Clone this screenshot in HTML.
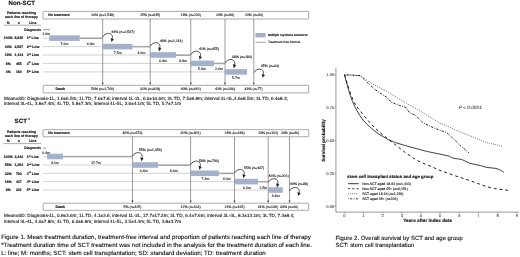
<!DOCTYPE html>
<html><head><meta charset="utf-8"><title>Figure</title>
<style>
html,body{margin:0;padding:0;background:#fff;}
svg{display:block;font-family:"Liberation Sans",sans-serif;}
text{fill:#111;text-rendering:geometricPrecision;stroke:#111;stroke-width:1.1px;}
.b{font-weight:bold;stroke-width:1.3px;}
.t{font-size:35px;}
.m{font-size:46.6px;}
.c{font-size:61.7px;}
</style></head><body>
<svg width="520" height="257" viewBox="0 0 520 257">
<rect width="520" height="257" fill="#fff"/>

<text transform="translate(8.4,5.4) scale(0.1)" class="b" font-size="62">Non-SCT</text>
<text transform="translate(21.5,14.1) scale(0.1)" class="t b" text-anchor="middle" >Patients reaching</text>
<text transform="translate(21.4,18.3) scale(0.1)" class="t b" text-anchor="middle" >each line of therapy</text>
<text transform="translate(8.2,23.5) scale(0.1)" class="t b" text-anchor="middle" >%</text>
<text transform="translate(18.7,23.5) scale(0.1)" class="t b" text-anchor="middle" >n</text>
<text transform="translate(32.8,23.5) scale(0.1)" class="t b" text-anchor="middle" >Line</text>
<line x1="3.5" y1="25.2" x2="41" y2="25.2" stroke="#333" stroke-width="0.4"/>
<rect x="43" y="11.4" width="265.7" height="7.6" fill="#fff" stroke="#555" stroke-width="0.5" rx="0.6"/>
<text transform="translate(48.2,16.45) scale(0.1)" class="t b" text-anchor="start" >No treatment</text>
<rect x="43.2" y="85.3" width="265.5" height="7.6" fill="#fff" stroke="#555" stroke-width="0.5" rx="0.6"/>
<text transform="translate(55.4,90.35) scale(0.1)" class="t b" text-anchor="start" >Death</text>
<line x1="43" y1="38.1" x2="102.7" y2="38.1" stroke="#d4d4d4" stroke-width="0.7"/>
<line x1="43" y1="38.1" x2="102.7" y2="38.1" stroke="#999" stroke-width="0.35" stroke-dasharray="0.8 0.8"/>
<line x1="43" y1="46.6" x2="150.2" y2="46.6" stroke="#d4d4d4" stroke-width="0.7"/>
<line x1="43" y1="46.6" x2="150.2" y2="46.6" stroke="#999" stroke-width="0.35" stroke-dasharray="0.8 0.8"/>
<line x1="43" y1="55.0" x2="190.8" y2="55.0" stroke="#d4d4d4" stroke-width="0.7"/>
<line x1="43" y1="55.0" x2="190.8" y2="55.0" stroke="#999" stroke-width="0.35" stroke-dasharray="0.8 0.8"/>
<line x1="43" y1="63.4" x2="225" y2="63.4" stroke="#d4d4d4" stroke-width="0.7"/>
<line x1="43" y1="63.4" x2="225" y2="63.4" stroke="#999" stroke-width="0.35" stroke-dasharray="0.8 0.8"/>
<line x1="43" y1="71.9" x2="247" y2="71.9" stroke="#d4d4d4" stroke-width="0.7"/>
<line x1="43" y1="71.9" x2="247" y2="71.9" stroke="#999" stroke-width="0.35" stroke-dasharray="0.8 0.8"/>
<text transform="translate(41,30.8) scale(0.1)" class="t b" text-anchor="end" >Diagnosis</text>
<text transform="translate(8.3,39.300000000000004) scale(0.1)" class="t b" text-anchor="middle" >100%</text>
<text transform="translate(18.8,39.300000000000004) scale(0.1)" class="t b" text-anchor="middle" >5,825</text>
<text transform="translate(26.7,39.300000000000004) scale(0.1)" class="t b">1<tspan font-size="22" dy="-12">st</tspan><tspan dy="12"> Line</tspan></text>
<text transform="translate(8.3,47.800000000000004) scale(0.1)" class="t b" text-anchor="middle" >44%</text>
<text transform="translate(18.8,47.800000000000004) scale(0.1)" class="t b" text-anchor="middle" >2,587</text>
<text transform="translate(26.7,47.800000000000004) scale(0.1)" class="t b">2<tspan font-size="22" dy="-12">nd</tspan><tspan dy="12"> Line</tspan></text>
<text transform="translate(8.3,56.2) scale(0.1)" class="t b" text-anchor="middle" >19%</text>
<text transform="translate(18.8,56.2) scale(0.1)" class="t b" text-anchor="middle" >1,114</text>
<text transform="translate(26.7,56.2) scale(0.1)" class="t b">3<tspan font-size="22" dy="-12">rd</tspan><tspan dy="12"> Line</tspan></text>
<text transform="translate(8.3,64.6) scale(0.1)" class="t b" text-anchor="middle" >8%</text>
<text transform="translate(18.8,64.6) scale(0.1)" class="t b" text-anchor="middle" >455</text>
<text transform="translate(26.7,64.6) scale(0.1)" class="t b">4<tspan font-size="22" dy="-12">th</tspan><tspan dy="12"> Line</tspan></text>
<text transform="translate(8.3,73.10000000000001) scale(0.1)" class="t b" text-anchor="middle" >3%</text>
<text transform="translate(18.8,73.10000000000001) scale(0.1)" class="t b" text-anchor="middle" >180</text>
<text transform="translate(26.7,73.10000000000001) scale(0.1)" class="t b">5<tspan font-size="22" dy="-12">th</tspan><tspan dy="12"> Line</tspan></text>
<line x1="43.2" y1="30.0" x2="50" y2="30.0" stroke="#bbb" stroke-width="0.8"/>
<line x1="43.2" y1="29.400000000000002" x2="50" y2="29.400000000000002" stroke="#333" stroke-width="0.35"/>
<text transform="translate(42.300000000000004,35.4) scale(0.1)" class="t" text-anchor="start" >1.6m</text>
<line x1="102.7" y1="19.0" x2="102.7" y2="84.3" stroke="#4a4a4a" stroke-width="0.55"/>
<path d="M101.7 82.7 L102.7 85.1 L103.7 82.7 Z" fill="#444"/>
<line x1="150.2" y1="19.0" x2="150.2" y2="84.3" stroke="#4a4a4a" stroke-width="0.55"/>
<path d="M149.2 82.7 L150.2 85.1 L151.2 82.7 Z" fill="#444"/>
<line x1="190.8" y1="19.0" x2="190.8" y2="84.3" stroke="#4a4a4a" stroke-width="0.55"/>
<path d="M189.8 82.7 L190.8 85.1 L191.8 82.7 Z" fill="#444"/>
<line x1="225" y1="19.0" x2="225" y2="84.3" stroke="#4a4a4a" stroke-width="0.55"/>
<path d="M224 82.7 L225 85.1 L226 82.7 Z" fill="#444"/>
<line x1="253.8" y1="19.0" x2="253.8" y2="84.3" stroke="#4a4a4a" stroke-width="0.55"/>
<path d="M252.8 82.7 L253.8 85.1 L254.8 82.7 Z" fill="#444"/>
<text transform="translate(102.7,16.45) scale(0.1)" class="t" text-anchor="middle" >26% (n=1,548)</text>
<text transform="translate(150.2,16.45) scale(0.1)" class="t" text-anchor="middle" >25% (n=645)</text>
<text transform="translate(190.8,16.45) scale(0.1)" class="t" text-anchor="middle" >18% (n=203)</text>
<text transform="translate(225,16.45) scale(0.1)" class="t" text-anchor="middle" >20% (n=93)</text>
<text transform="translate(254,16.45) scale(0.1)" class="t" text-anchor="middle" >20% (n=40)</text>
<text transform="translate(102.7,90.35) scale(0.1)" class="t" text-anchor="middle" >50% (n=1,700)</text>
<text transform="translate(150.2,90.35) scale(0.1)" class="t" text-anchor="middle" >32% (n=828)</text>
<text transform="translate(190.8,90.35) scale(0.1)" class="t" text-anchor="middle" >40% (n=442)</text>
<text transform="translate(225,90.35) scale(0.1)" class="t" text-anchor="middle" >42% (n=196)</text>
<text transform="translate(253.6,90.35) scale(0.1)" class="t" text-anchor="middle" >43% (n=77)</text>
<line x1="79.7" y1="37.85" x2="102.7" y2="37.85" stroke="#c0c0c0" stroke-width="1.0"/>
<line x1="79.7" y1="38.5" x2="102.7" y2="38.5" stroke="#666" stroke-width="0.5"/>
<rect x="49.3" y="35.300000000000004" width="30.400000000000006" height="5.6" fill="#a4b2cc"/>
<line x1="49.3" y1="38.1" x2="79.7" y2="38.1" stroke="#95a3bf" stroke-width="0.4" stroke-dasharray="0.8 0.8"/>
<text transform="translate(64.5,45.1) scale(0.1)" class="t" text-anchor="middle" >7.6m</text>
<text transform="translate(90.6,45.1) scale(0.1)" class="t" text-anchor="middle" >6.0m</text>
<line x1="132.4" y1="46.35" x2="150.2" y2="46.35" stroke="#c0c0c0" stroke-width="1.0"/>
<line x1="132.4" y1="47.0" x2="150.2" y2="47.0" stroke="#666" stroke-width="0.5"/>
<rect x="102.7" y="43.800000000000004" width="29.700000000000003" height="5.6" fill="#a4b2cc"/>
<line x1="102.7" y1="46.6" x2="132.4" y2="46.6" stroke="#95a3bf" stroke-width="0.4" stroke-dasharray="0.8 0.8"/>
<text transform="translate(117.7,53.6) scale(0.1)" class="t" text-anchor="middle" >7.5m</text>
<text transform="translate(141.5,53.6) scale(0.1)" class="t" text-anchor="middle" >4.6m</text>
<line x1="176" y1="54.75" x2="190.8" y2="54.75" stroke="#c0c0c0" stroke-width="1.0"/>
<line x1="176" y1="55.4" x2="190.8" y2="55.4" stroke="#666" stroke-width="0.5"/>
<rect x="150.2" y="52.2" width="25.80000000000001" height="5.6" fill="#a4b2cc"/>
<line x1="150.2" y1="55.0" x2="176" y2="55.0" stroke="#95a3bf" stroke-width="0.4" stroke-dasharray="0.8 0.8"/>
<text transform="translate(163,62.0) scale(0.1)" class="t" text-anchor="middle" >6.4m</text>
<text transform="translate(183,62.0) scale(0.1)" class="t" text-anchor="middle" >3.9m</text>
<line x1="214" y1="63.15" x2="225" y2="63.15" stroke="#c0c0c0" stroke-width="1.0"/>
<line x1="214" y1="63.8" x2="225" y2="63.8" stroke="#666" stroke-width="0.5"/>
<rect x="190.8" y="60.6" width="23.19999999999999" height="5.6" fill="#a4b2cc"/>
<line x1="190.8" y1="63.4" x2="214" y2="63.4" stroke="#95a3bf" stroke-width="0.4" stroke-dasharray="0.8 0.8"/>
<text transform="translate(202,70.4) scale(0.1)" class="t" text-anchor="middle" >5.9m</text>
<text transform="translate(219,70.4) scale(0.1)" class="t" text-anchor="middle" >2.6m</text>
<rect x="225" y="69.10000000000001" width="22" height="5.6" fill="#a4b2cc"/>
<line x1="225" y1="71.9" x2="247" y2="71.9" stroke="#95a3bf" stroke-width="0.4" stroke-dasharray="0.8 0.8"/>
<text transform="translate(236,78.9) scale(0.1)" class="t" text-anchor="middle" >5.7m</text>
<path d="M102.7 36.900000000000006 C103.9 34.7, 106.3 33.400000000000006, 108.60000000000001 33.400000000000006 C111.2 33.400000000000006, 113.10000000000001 35.7, 112.3 38.7" fill="none" stroke="#222" stroke-width="0.8"/>
<path d="M110.60000000000001 38.00000000000001 L111.5 42.1 L113.9 39.2 Z" fill="#222"/>
<text transform="translate(111.3,33.0) scale(0.1)" class="t" text-anchor="start" >44% (n=2,587)</text>
<path d="M150.2 46.2 C151.39999999999998 44.0, 153.79999999999998 42.7, 156.1 42.7 C158.7 42.7, 160.6 45.0, 159.79999999999998 48.0" fill="none" stroke="#222" stroke-width="0.8"/>
<path d="M158.1 47.300000000000004 L159.0 51.4 L161.39999999999998 48.5 Z" fill="#222"/>
<text transform="translate(159.9,41.5) scale(0.1)" class="t" text-anchor="start" >43% (n=1,114)</text>
<path d="M190.8 54.6 C192.0 52.4, 194.4 51.1, 196.70000000000002 51.1 C199.3 51.1, 201.20000000000002 53.4, 200.4 56.4" fill="none" stroke="#222" stroke-width="0.8"/>
<path d="M198.70000000000002 55.7 L199.60000000000002 59.8 L202.0 56.9 Z" fill="#222"/>
<text transform="translate(198.9,49.9) scale(0.1)" class="t" text-anchor="start" >42% (n=455)</text>
<path d="M225 63.00000000000001 C226.2 60.800000000000004, 228.6 59.50000000000001, 230.9 59.50000000000001 C233.5 59.50000000000001, 235.4 61.800000000000004, 234.6 64.80000000000001" fill="none" stroke="#222" stroke-width="0.8"/>
<path d="M232.9 64.10000000000001 L233.8 68.2 L236.2 65.30000000000001 Z" fill="#222"/>
<text transform="translate(232,58.3) scale(0.1)" class="t" text-anchor="start" >38% (n=180)</text>
<path d="M253.8 72.6 C255.0 70.4, 257.40000000000003 69.1, 259.7 69.1 C262.3 69.1, 264.2 71.4, 263.40000000000003 74.4" fill="none" stroke="#222" stroke-width="0.8"/>
<path d="M261.7 73.7 L262.6 77.8 L265.0 74.9 Z" fill="#222"/>
<text transform="translate(260.9,66.8) scale(0.1)" class="t" text-anchor="start" >35% (n=63)</text>
<text transform="translate(4.0,99.8) scale(0.1)" class="m" text-anchor="start" >Mean±SD: Diagnosis-1L, 1.6±6.5m; 1L TD, 7.6±7.8; interval 1L-2L, 6.0±10.6m; 2L TD, 7.5±8.8m; interval 2L-3L,4.6±8.5m; 3L TD, 6.4±8.3;</text>
<text transform="translate(4.0,105.3) scale(0.1)" class="m" text-anchor="start" >interval 3L-4L, 3.9±7.4m; 4L TD, 5.9±7.3m; interval 4L-5L, 2.6±4.1m; 5L TD, 5.7±7.1m</text>
<text transform="translate(14.6,123.4) scale(0.1)" class="b" font-size="62">SCT<tspan font-size="40" dy="-24" dx="12">*</tspan></text>
<text transform="translate(21.5,132.5) scale(0.1)" class="t b" text-anchor="middle" >Patients reaching</text>
<text transform="translate(21.4,136.70000000000002) scale(0.1)" class="t b" text-anchor="middle" >each line of therapy</text>
<text transform="translate(8.2,141.9) scale(0.1)" class="t b" text-anchor="middle" >%</text>
<text transform="translate(18.7,141.9) scale(0.1)" class="t b" text-anchor="middle" >n</text>
<text transform="translate(32.8,141.9) scale(0.1)" class="t b" text-anchor="middle" >Line</text>
<line x1="3.5" y1="143.6" x2="41" y2="143.6" stroke="#333" stroke-width="0.4"/>
<rect x="43" y="129.65" width="265.7" height="7.1" fill="#fff" stroke="#555" stroke-width="0.5" rx="0.6"/>
<text transform="translate(48.2,134.45000000000002) scale(0.1)" class="t b" text-anchor="start" >No treatment</text>
<rect x="43.2" y="203.2" width="265.5" height="7.1" fill="#fff" stroke="#555" stroke-width="0.5" rx="0.6"/>
<text transform="translate(55.4,208.0) scale(0.1)" class="t b" text-anchor="start" >Death</text>
<line x1="43" y1="156.5" x2="132.45" y2="156.5" stroke="#d4d4d4" stroke-width="0.7"/>
<line x1="43" y1="156.5" x2="132.45" y2="156.5" stroke="#999" stroke-width="0.35" stroke-dasharray="0.8 0.8"/>
<line x1="43" y1="165.0" x2="190.6" y2="165.0" stroke="#d4d4d4" stroke-width="0.7"/>
<line x1="43" y1="165.0" x2="190.6" y2="165.0" stroke="#999" stroke-width="0.35" stroke-dasharray="0.8 0.8"/>
<line x1="43" y1="173.3" x2="234.5" y2="173.3" stroke="#d4d4d4" stroke-width="0.7"/>
<line x1="43" y1="173.3" x2="234.5" y2="173.3" stroke="#999" stroke-width="0.35" stroke-dasharray="0.8 0.8"/>
<line x1="43" y1="181.6" x2="268.2" y2="181.6" stroke="#d4d4d4" stroke-width="0.7"/>
<line x1="43" y1="181.6" x2="268.2" y2="181.6" stroke="#999" stroke-width="0.35" stroke-dasharray="0.8 0.8"/>
<line x1="43" y1="190.0" x2="282.8" y2="190.0" stroke="#d4d4d4" stroke-width="0.7"/>
<line x1="43" y1="190.0" x2="282.8" y2="190.0" stroke="#999" stroke-width="0.35" stroke-dasharray="0.8 0.8"/>
<text transform="translate(41,149.39999999999998) scale(0.1)" class="t b" text-anchor="end" >Diagnosis</text>
<text transform="translate(8.3,157.7) scale(0.1)" class="t b" text-anchor="middle" >100%</text>
<text transform="translate(18.8,157.7) scale(0.1)" class="t b" text-anchor="middle" >2,442</text>
<text transform="translate(26.7,157.7) scale(0.1)" class="t b">1<tspan font-size="22" dy="-12">st</tspan><tspan dy="12"> Line</tspan></text>
<text transform="translate(8.3,166.2) scale(0.1)" class="t b" text-anchor="middle" >55%</text>
<text transform="translate(18.8,166.2) scale(0.1)" class="t b" text-anchor="middle" >1,354</text>
<text transform="translate(26.7,166.2) scale(0.1)" class="t b">2<tspan font-size="22" dy="-12">nd</tspan><tspan dy="12"> Line</tspan></text>
<text transform="translate(8.3,174.5) scale(0.1)" class="t b" text-anchor="middle" >32%</text>
<text transform="translate(18.8,174.5) scale(0.1)" class="t b" text-anchor="middle" >790</text>
<text transform="translate(26.7,174.5) scale(0.1)" class="t b">3<tspan font-size="22" dy="-12">rd</tspan><tspan dy="12"> Line</tspan></text>
<text transform="translate(8.3,182.79999999999998) scale(0.1)" class="t b" text-anchor="middle" >18%</text>
<text transform="translate(18.8,182.79999999999998) scale(0.1)" class="t b" text-anchor="middle" >437</text>
<text transform="translate(26.7,182.79999999999998) scale(0.1)" class="t b">4<tspan font-size="22" dy="-12">th</tspan><tspan dy="12"> Line</tspan></text>
<text transform="translate(8.3,191.2) scale(0.1)" class="t b" text-anchor="middle" >8%</text>
<text transform="translate(18.8,191.2) scale(0.1)" class="t b" text-anchor="middle" >201</text>
<text transform="translate(26.7,191.2) scale(0.1)" class="t b">5<tspan font-size="22" dy="-12">th</tspan><tspan dy="12"> Line</tspan></text>
<line x1="43.2" y1="148.6" x2="46" y2="148.6" stroke="#bbb" stroke-width="0.8"/>
<line x1="43.2" y1="148.0" x2="46" y2="148.0" stroke="#333" stroke-width="0.35"/>
<text transform="translate(42.300000000000004,153.8) scale(0.1)" class="t" text-anchor="start" >0.9m</text>
<line x1="132.45" y1="136.75" x2="132.45" y2="202.2" stroke="#4a4a4a" stroke-width="0.55"/>
<path d="M131.45 200.6 L132.45 203.0 L133.45 200.6 Z" fill="#444"/>
<line x1="190.6" y1="136.75" x2="190.6" y2="202.2" stroke="#4a4a4a" stroke-width="0.55"/>
<path d="M189.6 200.6 L190.6 203.0 L191.6 200.6 Z" fill="#444"/>
<line x1="234.5" y1="136.75" x2="234.5" y2="202.2" stroke="#4a4a4a" stroke-width="0.55"/>
<path d="M233.5 200.6 L234.5 203.0 L235.5 200.6 Z" fill="#444"/>
<line x1="268.2" y1="136.75" x2="268.2" y2="202.2" stroke="#4a4a4a" stroke-width="0.55"/>
<path d="M267.2 200.6 L268.2 203.0 L269.2 200.6 Z" fill="#444"/>
<line x1="289.5" y1="136.75" x2="289.5" y2="202.2" stroke="#4a4a4a" stroke-width="0.55"/>
<path d="M288.5 200.6 L289.5 203.0 L290.5 200.6 Z" fill="#444"/>
<text transform="translate(132.45,134.45000000000002) scale(0.1)" class="t" text-anchor="middle" >40% (n=973)</text>
<text transform="translate(190.6,134.45000000000002) scale(0.1)" class="t" text-anchor="middle" >30% (n=401)</text>
<text transform="translate(234.5,134.45000000000002) scale(0.1)" class="t" text-anchor="middle" >24% (n=188)</text>
<text transform="translate(268.2,134.45000000000002) scale(0.1)" class="t" text-anchor="middle" >23% (n=102)</text>
<text transform="translate(290,134.45000000000002) scale(0.1)" class="t" text-anchor="middle" >23% (n=46)</text>
<text transform="translate(132.45,208.0) scale(0.1)" class="t" text-anchor="middle" >5% (n=115)</text>
<text transform="translate(190.6,208.0) scale(0.1)" class="t" text-anchor="middle" >12% (n=163)</text>
<text transform="translate(234.5,208.0) scale(0.1)" class="t" text-anchor="middle" >21% (n=165)</text>
<text transform="translate(267.9,208.0) scale(0.1)" class="t" text-anchor="middle" >31% (n=134)</text>
<text transform="translate(289.1,208.0) scale(0.1)" class="t" text-anchor="middle" >33% (n=66)</text>
<line x1="63" y1="156.25" x2="132.45" y2="156.25" stroke="#c0c0c0" stroke-width="1.0"/>
<line x1="63" y1="156.9" x2="132.45" y2="156.9" stroke="#666" stroke-width="0.5"/>
<rect x="47.1" y="153.7" width="15.899999999999999" height="5.6" fill="#a4b2cc"/>
<line x1="47.1" y1="156.5" x2="63" y2="156.5" stroke="#95a3bf" stroke-width="0.4" stroke-dasharray="0.8 0.8"/>
<text transform="translate(54.9,163.5) scale(0.1)" class="t" text-anchor="middle" >4.1m</text>
<text transform="translate(96,163.5) scale(0.1)" class="t" text-anchor="middle" >17.7m</text>
<line x1="158" y1="164.75" x2="190.6" y2="164.75" stroke="#c0c0c0" stroke-width="1.0"/>
<line x1="158" y1="165.4" x2="190.6" y2="165.4" stroke="#666" stroke-width="0.5"/>
<rect x="132.45" y="162.2" width="25.55000000000001" height="5.6" fill="#a4b2cc"/>
<line x1="132.45" y1="165.0" x2="158" y2="165.0" stroke="#95a3bf" stroke-width="0.4" stroke-dasharray="0.8 0.8"/>
<text transform="translate(143.7,172.0) scale(0.1)" class="t" text-anchor="middle" >6.4m</text>
<text transform="translate(173.7,172.0) scale(0.1)" class="t" text-anchor="middle" >8.3m</text>
<line x1="218.9" y1="173.05" x2="234.5" y2="173.05" stroke="#c0c0c0" stroke-width="1.0"/>
<line x1="218.9" y1="173.70000000000002" x2="234.5" y2="173.70000000000002" stroke="#666" stroke-width="0.5"/>
<rect x="190.6" y="170.5" width="28.30000000000001" height="5.6" fill="#a4b2cc"/>
<line x1="190.6" y1="173.3" x2="218.9" y2="173.3" stroke="#95a3bf" stroke-width="0.4" stroke-dasharray="0.8 0.8"/>
<text transform="translate(205.5,180.3) scale(0.1)" class="t" text-anchor="middle" >7.3m</text>
<text transform="translate(226.7,180.3) scale(0.1)" class="t" text-anchor="middle" >4.0m</text>
<line x1="258" y1="181.35" x2="268.2" y2="181.35" stroke="#c0c0c0" stroke-width="1.0"/>
<line x1="258" y1="182.0" x2="268.2" y2="182.0" stroke="#666" stroke-width="0.5"/>
<rect x="234.5" y="178.79999999999998" width="23.5" height="5.6" fill="#a4b2cc"/>
<line x1="234.5" y1="181.6" x2="258" y2="181.6" stroke="#95a3bf" stroke-width="0.4" stroke-dasharray="0.8 0.8"/>
<text transform="translate(247,188.6) scale(0.1)" class="t" text-anchor="middle" >6.0m</text>
<text transform="translate(263.4,188.6) scale(0.1)" class="t" text-anchor="middle" >2.5m</text>
<rect x="268.2" y="187.2" width="14.600000000000023" height="5.6" fill="#a4b2cc"/>
<line x1="268.2" y1="190.0" x2="282.8" y2="190.0" stroke="#95a3bf" stroke-width="0.4" stroke-dasharray="0.8 0.8"/>
<text transform="translate(275.7,197.0) scale(0.1)" class="t" text-anchor="middle" >3.8m</text>
<path d="M132.45 156.1 C133.64999999999998 153.9, 136.04999999999998 152.6, 138.35 152.6 C140.95 152.6, 142.85 154.9, 142.04999999999998 157.9" fill="none" stroke="#222" stroke-width="0.8"/>
<path d="M140.35 157.2 L141.25 161.3 L143.64999999999998 158.4 Z" fill="#222"/>
<text transform="translate(138.9,151.1) scale(0.1)" class="t" text-anchor="start" >55% (n=1,354)</text>
<path d="M190.6 164.6 C191.79999999999998 162.4, 194.2 161.1, 196.5 161.1 C199.1 161.1, 201.0 163.4, 200.2 166.4" fill="none" stroke="#222" stroke-width="0.8"/>
<path d="M198.5 165.7 L199.4 169.8 L201.79999999999998 166.9 Z" fill="#222"/>
<text transform="translate(198.9,161.7) scale(0.1)" class="t" text-anchor="start" >58% (n=790)</text>
<path d="M234.5 172.9 C235.7 170.70000000000002, 238.1 169.4, 240.4 169.4 C243.0 169.4, 244.9 171.70000000000002, 244.1 174.70000000000002" fill="none" stroke="#222" stroke-width="0.8"/>
<path d="M242.4 174.0 L243.3 178.10000000000002 L245.7 175.20000000000002 Z" fill="#222"/>
<text transform="translate(244,169.0) scale(0.1)" class="t" text-anchor="start" >55% (n=437)</text>
<path d="M268.2 182.2 C269.4 180.0, 271.8 178.7, 274.09999999999997 178.7 C276.7 178.7, 278.59999999999997 181.0, 277.8 184.0" fill="none" stroke="#222" stroke-width="0.8"/>
<path d="M276.09999999999997 183.29999999999998 L277.0 187.4 L279.4 184.5 Z" fill="#222"/>
<text transform="translate(268.5,176.5) scale(0.1)" class="t" text-anchor="start" >46% (n=201)</text>
<path d="M289.5 190.9 C290.7 188.70000000000002, 293.1 187.4, 295.4 187.4 C298.0 187.4, 299.9 189.70000000000002, 299.1 192.70000000000002" fill="none" stroke="#222" stroke-width="0.8"/>
<path d="M297.4 192.0 L298.3 196.10000000000002 L300.7 193.20000000000002 Z" fill="#222"/>
<text transform="translate(290,184.9) scale(0.1)" class="t" text-anchor="start" >44% (n=88)</text>
<text transform="translate(4.0,217.3) scale(0.1)" class="m" text-anchor="start" >Mean±SD: Diagnosis-1L, 0.9±3.6m; 1L TD, 4.1±3.6; interval 1L-2L, 17.7±17.2m; 2L TD, 6.4±7.6m; interval 2L-3L, 8.3±13.1m; 3L TD, 7.3±8.4;</text>
<text transform="translate(4.0,222.8) scale(0.1)" class="m" text-anchor="start" >interval 3L-4L, 4.0±7.8m; 4L TD, 6.0±6.9m; interval 4L-5L, 2.5±4.4m; 5L TD, 3.8±3.7m</text>
<rect x="255.4" y="33.0" width="10.2" height="4.4" fill="#a4b2cc"/>
<text transform="translate(267.9,36.4) scale(0.1)" class="t b" style="font-size:30px" text-anchor="start" >Multiple myeloma treatment</text>
<line x1="255.5" y1="42.3" x2="265.7" y2="42.3" stroke="#444" stroke-width="0.5"/>
<text transform="translate(267.9,43.1) scale(0.1)" class="t" style="font-size:32px" text-anchor="start" >Treatment-free interval</text>
<text transform="translate(1.2,239.2) scale(0.1)" class="c" text-anchor="start" >Figure 1. Mean treatment duration, treatment-free interval and proportion of patients reaching each line of therapy</text>
<text transform="translate(1.2,246.9) scale(0.1)" class="c" text-anchor="start" >*Treatment duration time of SCT treatment was not included in the analysis for the treatment duration of each line.</text>
<text transform="translate(1.2,254.6) scale(0.1)" class="c" text-anchor="start" >L: line; M: months; SCT: stem cell transplantation; SD: standard deviation; TD: treatment duration</text>
<text transform="translate(335.6,240.0) scale(0.1)" class="c" style="font-size:59.5px" text-anchor="start" >Figure 2. Overall survival by SCT and age group</text>
<text transform="translate(335.6,247.3) scale(0.1)" class="c" style="font-size:59.5px" text-anchor="start" >SCT: stem cell transplantation</text>
<path d="M335.9 67.7 V212.1 H519" fill="none" stroke="#333" stroke-width="0.5"/>
<line x1="334.6" y1="206.2" x2="335.9" y2="206.2" stroke="#333" stroke-width="0.4"/>
<text transform="translate(334.3,207.5) scale(0.1)" class="t" style="font-size:41px;fill:#3a3a3a;stroke:#3a3a3a;stroke-width:0.7px" text-anchor="end" >0.00</text>
<line x1="334.6" y1="173.3" x2="335.9" y2="173.3" stroke="#333" stroke-width="0.4"/>
<text transform="translate(334.3,174.6) scale(0.1)" class="t" style="font-size:41px;fill:#3a3a3a;stroke:#3a3a3a;stroke-width:0.7px" text-anchor="end" >0.25</text>
<line x1="334.6" y1="140.4" x2="335.9" y2="140.4" stroke="#333" stroke-width="0.4"/>
<text transform="translate(334.3,141.8) scale(0.1)" class="t" style="font-size:41px;fill:#3a3a3a;stroke:#3a3a3a;stroke-width:0.7px" text-anchor="end" >0.50</text>
<line x1="334.6" y1="107.6" x2="335.9" y2="107.6" stroke="#333" stroke-width="0.4"/>
<text transform="translate(334.3,108.9) scale(0.1)" class="t" style="font-size:41px;fill:#3a3a3a;stroke:#3a3a3a;stroke-width:0.7px" text-anchor="end" >0.75</text>
<line x1="334.6" y1="74.7" x2="335.9" y2="74.7" stroke="#333" stroke-width="0.4"/>
<text transform="translate(334.3,76.0) scale(0.1)" class="t" style="font-size:41px;fill:#3a3a3a;stroke:#3a3a3a;stroke-width:0.7px" text-anchor="end" >1.00</text>
<line x1="344.4" y1="212.1" x2="344.4" y2="213.4" stroke="#333" stroke-width="0.4"/>
<text transform="translate(344.4,217.0) scale(0.1)" class="t" style="font-size:41px;fill:#3a3a3a;stroke:#3a3a3a;stroke-width:0.7px" text-anchor="middle" >0</text>
<line x1="363.5" y1="212.1" x2="363.5" y2="213.4" stroke="#333" stroke-width="0.4"/>
<text transform="translate(363.5,217.0) scale(0.1)" class="t" style="font-size:41px;fill:#3a3a3a;stroke:#3a3a3a;stroke-width:0.7px" text-anchor="middle" >1</text>
<line x1="382.7" y1="212.1" x2="382.7" y2="213.4" stroke="#333" stroke-width="0.4"/>
<text transform="translate(382.7,217.0) scale(0.1)" class="t" style="font-size:41px;fill:#3a3a3a;stroke:#3a3a3a;stroke-width:0.7px" text-anchor="middle" >2</text>
<line x1="401.8" y1="212.1" x2="401.8" y2="213.4" stroke="#333" stroke-width="0.4"/>
<text transform="translate(401.8,217.0) scale(0.1)" class="t" style="font-size:41px;fill:#3a3a3a;stroke:#3a3a3a;stroke-width:0.7px" text-anchor="middle" >3</text>
<line x1="421.0" y1="212.1" x2="421.0" y2="213.4" stroke="#333" stroke-width="0.4"/>
<text transform="translate(421.0,217.0) scale(0.1)" class="t" style="font-size:41px;fill:#3a3a3a;stroke:#3a3a3a;stroke-width:0.7px" text-anchor="middle" >4</text>
<line x1="440.1" y1="212.1" x2="440.1" y2="213.4" stroke="#333" stroke-width="0.4"/>
<text transform="translate(440.1,217.0) scale(0.1)" class="t" style="font-size:41px;fill:#3a3a3a;stroke:#3a3a3a;stroke-width:0.7px" text-anchor="middle" >5</text>
<line x1="459.3" y1="212.1" x2="459.3" y2="213.4" stroke="#333" stroke-width="0.4"/>
<text transform="translate(459.3,217.0) scale(0.1)" class="t" style="font-size:41px;fill:#3a3a3a;stroke:#3a3a3a;stroke-width:0.7px" text-anchor="middle" >6</text>
<line x1="478.4" y1="212.1" x2="478.4" y2="213.4" stroke="#333" stroke-width="0.4"/>
<text transform="translate(478.4,217.0) scale(0.1)" class="t" style="font-size:41px;fill:#3a3a3a;stroke:#3a3a3a;stroke-width:0.7px" text-anchor="middle" >7</text>
<line x1="497.6" y1="212.1" x2="497.6" y2="213.4" stroke="#333" stroke-width="0.4"/>
<text transform="translate(497.6,217.0) scale(0.1)" class="t" style="font-size:41px;fill:#3a3a3a;stroke:#3a3a3a;stroke-width:0.7px" text-anchor="middle" >8</text>
<line x1="516.8" y1="212.1" x2="516.8" y2="213.4" stroke="#333" stroke-width="0.4"/>
<text transform="translate(516.8,217.0) scale(0.1)" class="t" style="font-size:41px;fill:#3a3a3a;stroke:#3a3a3a;stroke-width:0.7px" text-anchor="middle" >9</text>
<text transform="translate(427.5,222.3) scale(0.1)" class="b" style="font-size:47px" text-anchor="middle" >Years after index date</text>
<text transform="translate(325.3,140.5) rotate(-90) scale(0.1)" text-anchor="middle" class="b" style="font-size:46px">Survival probability</text>
<text transform="translate(458.7,109.0) scale(0.1)" style="font-size:48px;font-style:italic;fill:#333;stroke:#333;stroke-width:0.5px">P &lt; 0.0001</text>
<path d="M344.6 74.8 L345.6 79.0 L347.0 84.0 L348.5 89.5 L350.1 94.9 L352.5 101.6 L354.6 106.3 L357.1 110.9 L360.0 115.8 L363.3 120.2 L367.0 124.3 L371.1 128.0 L375.0 131.3 L378.9 134.2 L383.0 136.5 L387.8 139.5 L395.6 142.6 L403.0 144.9 L411.1 147.2 L419.0 149.3 L426.7 151.4 L438.9 153.9 L449.3 156.2 L452.7 158.1 L461.8 159.5 L469.6 163.2 L480.5 165.6 L486.7 167.4 L496.0 168.4 L499.9 169.8 L503.8 172.3" fill="none" stroke="#111" stroke-width="0.8" stroke-linejoin="round"/>
<path d="M344.6 74.8 L345.8 79.0 L347.3 84.0 L349.0 89.5 L351.0 94.9 L353.8 101.6 L356.5 106.3 L360.2 110.9 L363.3 115.0 L366.5 118.7 L370.3 123.0 L374.2 127.2 L378.0 130.8 L382.0 134.2 L386.7 137.6 L391.0 141.5 L395.6 144.9 L403.3 151.1 L407.8 154.3 L415.6 159.5 L423.0 163.2 L431.1 166.5 L440.0 170.4 L455.6 175.9 L471.1 181.0 L486.7 186.7 L494.5 188.6 L505.4 189.9 L510.8 191.0" fill="none" stroke="#111" stroke-width="0.95" stroke-dasharray="2.9 2.9" stroke-linejoin="round"/>
<path d="M344.6 74.8 L360.2 75.6 L371.1 83.2 L386.7 91.4 L402.3 100.8 L408.5 104.4 L420.0 110.8 L434.5 119.8 L440.0 123.2 L450.0 127.3 L455.6 130.1 L460.0 131.8 L471.1 136.3 L486.7 142.6 L495.0 144.5 L503.0 146.5" fill="none" stroke="#222" stroke-width="0.9" stroke-dasharray="0.7 1.4" stroke-linejoin="round"/>
<path d="M344.6 74.8 L360.2 75.6 L367.2 82.5 L375.0 89.5 L380.5 93.3 L386.7 97.2 L391.4 102.3 L399.1 105.3 L406.2 107.5 L409.3 112.3 L415.6 115.5 L419.5 119.3 L423.3 123.0 L433.5 127.8 L446.7 132.6 L452.5 137.9 L460.2 145.5 L468.8 152.7" fill="none" stroke="#111" stroke-width="0.95" stroke-dasharray="0.8 1.3 2.2 1.4" stroke-linejoin="round"/>
<text transform="translate(347.3,178.4) scale(0.1)" class="b" style="font-size:43.5px" text-anchor="start" >stem cell transplant status and age group</text>
<line x1="348.1" y1="183.7" x2="358.7" y2="183.7" stroke="#111" stroke-width="0.85"/>
<text transform="translate(362.3,184.89999999999998) scale(0.1)" class="t" style="font-size:34.5px" text-anchor="start" >Non-SCT aged 18-64 (n=1,400)</text>
<line x1="348.1" y1="188.7" x2="358.7" y2="188.7" stroke="#111" stroke-width="0.85" stroke-dasharray="2.1 2.1"/>
<text transform="translate(362.3,189.89999999999998) scale(0.1)" class="t" style="font-size:34.5px" text-anchor="start" >Non-SCT aged 65+ (n=6,151)</text>
<line x1="348.1" y1="193.8" x2="358.7" y2="193.8" stroke="#111" stroke-width="0.85" stroke-dasharray="0.7 1.4"/>
<text transform="translate(362.3,195.0) scale(0.1)" class="t" style="font-size:34.5px" text-anchor="start" >SCT aged 18-64 (n=2,266)</text>
<line x1="348.1" y1="198.8" x2="358.7" y2="198.8" stroke="#111" stroke-width="0.85" stroke-dasharray="0.7 1.4 2.1 1.5"/>
<text transform="translate(362.3,200.0) scale(0.1)" class="t" style="font-size:34.5px" text-anchor="start" >SCT aged 65+ (n=206)</text>
</svg></body></html>
